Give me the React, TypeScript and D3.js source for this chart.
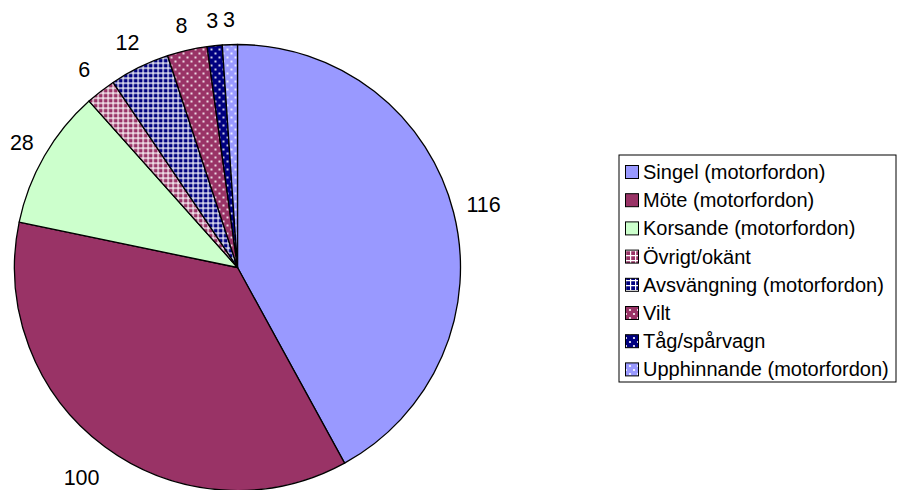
import React from "react";
import * as d3 from "d3";

const categories = [
  "Singel (motorfordon)",
  "Möte (motorfordon)",
  "Korsande (motorfordon)",
  "Övrigt/okänt",
  "Avsvängning (motorfordon)",
  "Vilt",
  "Tåg/spårvagn",
  "Upphinnande (motorfordon)",
];
const values = [116, 100, 28, 6, 12, 8, 3, 3];

const fills = [
  "#9999FF",
  "#993366",
  "#CCFFCC",
  "url(#gridMaroon)",
  "url(#gridNavy)",
  "url(#dotsMaroon)",
  "url(#dotsNavy)",
  "url(#dotsBlue)",
];

const W = 899;
const H = 490;
const CX = 237.5;
const CY = 267.5;
const R = 223;
// distance of each label's centre from the pie centre
const LABEL_RADII = [254, 262, 249, 250, 250, 248, 248, 248];
const FONT = "'Liberation Sans', Arial, Helvetica, sans-serif";

export default function App() {
  const pie = d3
    .pie<number>()
    .sort(null)
    .value((d) => d)
    .startAngle(0)
    .endAngle(2 * Math.PI);
  const arcs = pie(values);
  const arcGen = d3.arc<d3.PieArcDatum<number>>().innerRadius(0).outerRadius(R);

  const legendX = 619;
  const legendY = 155;
  const legendW = 277;
  const legendH = 227;
  const rowStep = 28.2;
  const firstRow = legendY + 17;

  const grid = (id: string, color: string) => (
    <pattern id={id} width={5} height={5} patternUnits="userSpaceOnUse">
      <rect width={5} height={5} fill={color} />
      <path d="M0 0.6H5M0.6 0V5" stroke="#fff" strokeWidth={1.2} />
    </pattern>
  );
  const dots = (id: string, color: string) => (
    <pattern id={id} width={8} height={8} patternUnits="userSpaceOnUse">
      <rect width={8} height={8} fill={color} />
      <circle cx={2} cy={2} r={1.1} fill="#fff" />
      <circle cx={6} cy={6} r={1.1} fill="#fff" />
    </pattern>
  );

  return (
    <svg
      width={W}
      height={H}
      style={{ position: "absolute", left: 0, top: 0, display: "block", background: "#fff" }}
    >
      <defs>
        {grid("gridMaroon", "#993366")}
        {grid("gridNavy", "#000080")}
        {dots("dotsMaroon", "#993366")}
        {dots("dotsNavy", "#000080")}
        {dots("dotsBlue", "#9999FF")}
      </defs>
      <g transform={`translate(${CX},${CY})`}>
        {arcs.map((a, i) => (
          <path key={i} d={arcGen(a) || ""} fill={fills[i]} stroke="#000" strokeWidth={1.3} strokeLinejoin="round" />
        ))}
        {arcs.map((a, i) => {
          const mid = (a.startAngle + a.endAngle) / 2;
          const lr = LABEL_RADII[i];
          const x = lr * Math.sin(mid);
          const y = -lr * Math.cos(mid);
          return (
            <text
              key={i}
              x={x}
              y={y}
              textAnchor="middle"
              dominantBaseline="central"
              fontFamily={FONT}
              fontSize={21.5}
              fill="#000"
            >
              {values[i]}
            </text>
          );
        })}
      </g>
      <rect x={legendX} y={legendY} width={legendW} height={legendH} fill="#fff" stroke="#000" strokeWidth={1} />
      {categories.map((c, i) => {
        const cy = firstRow + i * rowStep;
        return (
          <g key={c}>
            <rect x={625.5} y={cy - 6.5} width={13} height={13} fill={fills[i]} stroke="#000" strokeWidth={1} />
            <text x={643} y={cy} dominantBaseline="central" fontFamily={FONT} fontSize={20} fill="#000">
              {c}
            </text>
          </g>
        );
      })}
    </svg>
  );
}
